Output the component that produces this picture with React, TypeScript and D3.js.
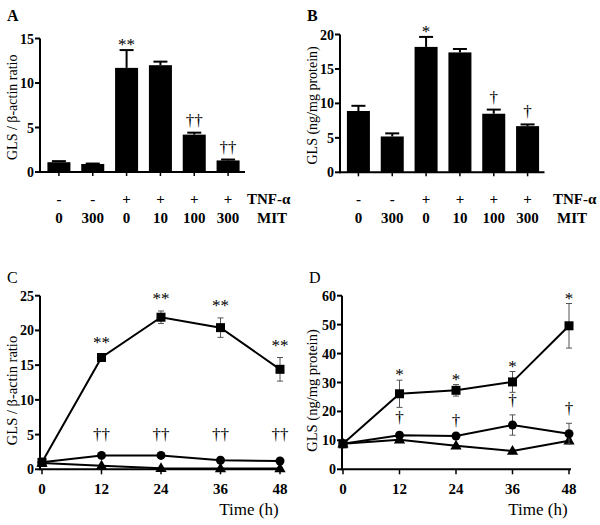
import React from "react";
import * as d3 from "d3";

// ---------- data ----------
const tnfLabels = ["-", "-", "+", "+", "+", "+"];
const mitLabels = ["0", "300", "0", "10", "100", "300"];

const aValues = [1.1, 0.9, 11.7, 12.0, 4.2, 1.3];
const aErrors = [0.12, 0.05, 2.0, 0.4, 0.22, 0.1];
const aMarks = ["", "", "**", "", "††", "††"];

const bValues = [8.9, 5.2, 18.2, 17.4, 8.5, 6.7];
const bErrors = [0.75, 0.45, 1.45, 0.5, 0.6, 0.25];
const bMarks = ["", "", "*", "", "†", "†"];

const times = [0, 12, 24, 36, 48];

const cSquare = [1.0, 16.1, 21.9, 20.4, 14.4];
const cSquareErr = [0.3, 0.3, 0.9, 1.4, 1.7];
const cCircle = [1.0, 2.0, 2.0, 1.3, 1.2];
const cCircleErr = [0.1, 0.15, 0.15, 0.1, 0.1];
const cTriangle = [0.9, 0.5, 0.15, 0.1, 0.1];
const cTriangleErr = [0.05, 0.05, 0.05, 0.05, 0.05];
const cStars = ["", "**", "**", "**", "**"];
const cDaggers = ["", "††", "††", "††", "††"];

const dSquare = [8.8, 26.1, 27.3, 30.2, 49.6];
const dSquareErr = [0.5, 4.7, 2.0, 3.6, 7.7];
const dCircle = [8.8, 11.8, 11.5, 15.3, 12.3];
const dCircleErr = [0.5, 1.0, 0.5, 3.5, 3.6];
const dTriangle = [8.8, 10.2, 8.1, 6.3, 9.9];
const dTriangleErr = [0.4, 0.5, 0.4, 0.4, 0.5];
const dStars = ["", "*", "*", "*", "*"];
const dDaggers = ["", "†", "†", "†", "†"];

const aTicks = [0, 5, 10, 15];
const bTicks = [0, 5, 10, 15, 20];
const cTicks = [0, 5, 10, 15, 20, 25];
const dTicks = [0, 10, 20, 30, 40, 50, 60];

const FONT = "'Liberation Serif', 'Times New Roman', serif";

type BarProps = {
  values: number[];
  errors: number[];
  marks: string[];
  ticks: number[];
  yMax: number;
  x0: number;
  axisX: number;
  yTop: number;
  yBottom: number;
  title: string;
  titleX: number;
  label: string;
  tnfX: number;
  mitX: number;
};

function BarPanel(p: BarProps) {
  const idx = p.values.map((_, i) => String(i));
  const x = d3.scaleBand().domain(idx).range([p.x0, p.x0 + 203]).paddingInner(0.32).paddingOuter(0.16);
  const y = d3.scaleLinear().domain([0, p.yMax]).range([p.yBottom, p.yTop]);
  const bw = x.bandwidth();
  return (
    <g>
      <text x={p.axisX - 33} y={21} fontFamily={FONT} fontSize={16} fontWeight="bold">{p.label}</text>
      {p.values.map((v, i) => {
        const cx = (x(String(i)) as number) + bw / 2;
        const top = y(v + p.errors[i]);
        return (
          <g key={i}>
            <line x1={cx} x2={cx} y1={y(v)} y2={top} stroke="#000" strokeWidth={2} />
            <line x1={cx - 7} x2={cx + 7} y1={top} y2={top} stroke="#000" strokeWidth={2} />
            <rect x={x(String(i))} y={y(v)} width={bw} height={y(0) - y(v)} fill="#000" />
            {p.marks[i] && (
              <text x={cx} y={top - (p.marks[i].includes("*") ? 0 : 7)} textAnchor="middle" fontFamily={FONT} fontSize={17} fill="#000">
                {p.marks[i]}
              </text>
            )}
            <line x1={cx} x2={cx} y1={y(0)} y2={y(0) + 4} stroke="#000" strokeWidth={1.5} />
            <text x={cx} y={204} textAnchor="middle" fontFamily={FONT} fontSize={15} fontWeight="bold">{tnfLabels[i]}</text>
            <text x={cx} y={223} textAnchor="middle" fontFamily={FONT} fontSize={15} fontWeight="bold">{mitLabels[i]}</text>
          </g>
        );
      })}
      <line x1={p.axisX} x2={p.x0 + 203} y1={y(0)} y2={y(0)} stroke="#000" strokeWidth={2} />
      <line x1={p.axisX} x2={p.axisX} y1={y(0) + 1} y2={y(p.yMax)} stroke="#000" strokeWidth={2} />
      {p.ticks.map((t) => (
        <g key={t}>
          <line x1={p.axisX - 5} x2={p.axisX} y1={y(t)} y2={y(t)} stroke="#000" strokeWidth={2} />
          <text x={p.axisX - 6} y={y(t) + 5} textAnchor="end" fontFamily={FONT} fontSize={14} fontWeight="bold">{t}</text>
        </g>
      ))}
      <text x={p.tnfX} y={204} fontFamily={FONT} fontSize={15} fontWeight="bold">TNF-α</text>
      <text x={p.mitX} y={223} fontFamily={FONT} fontSize={15} fontWeight="bold">MIT</text>
      <text transform={`translate(${p.titleX},${(p.yTop + p.yBottom) / 2 + 2}) rotate(-90)`} textAnchor="middle" fontFamily={FONT} fontSize={14}>
        {p.title}
      </text>
    </g>
  );
}

type LineProps = {
  square: number[]; squareErr: number[];
  circle: number[]; circleErr: number[];
  triangle: number[]; triangleErr: number[];
  stars: string[]; daggers: string[];
  ticks: number[]; yMax: number;
  axisX: number; xLeft: number; xRight: number;
  yTop: number; yBottom: number;
  title: string; titleX: number; label: string;
  starGap: number; daggerConst: number | null;
};

function LinePanel(p: LineProps) {
  const x = d3.scaleLinear().domain([0, 48]).range([p.xLeft, p.xRight]);
  const y = d3.scaleLinear().domain([0, p.yMax]).range([p.yBottom, p.yTop]);
  const line = d3.line<number>().x((_, i) => x(times[i])).y((v) => y(v));
  const tri = d3.symbol().type(d3.symbolTriangle).size(55)() as string;
  const series = [
    { v: p.triangle, e: p.triangleErr, kind: "tri" },
    { v: p.circle, e: p.circleErr, kind: "circle" },
    { v: p.square, e: p.squareErr, kind: "square" },
  ];
  return (
    <g>
      <text x={p.axisX - 33} y={283} fontFamily={FONT} fontSize={16}>{p.label}</text>
      {series.map((s) => (
        <g key={s.kind}>
          {s.v.map((v, i) => (
            <g key={i}>
              <line x1={x(times[i])} x2={x(times[i])} y1={y(v - s.e[i])} y2={y(v + s.e[i])} stroke="#555" strokeWidth={1} />
              <line x1={x(times[i]) - 3} x2={x(times[i]) + 3} y1={y(v + s.e[i])} y2={y(v + s.e[i])} stroke="#555" strokeWidth={1} />
              <line x1={x(times[i]) - 3} x2={x(times[i]) + 3} y1={y(v - s.e[i])} y2={y(v - s.e[i])} stroke="#555" strokeWidth={1} />
            </g>
          ))}
          <path d={line(s.v) as string} fill="none" stroke="#000" strokeWidth={2} />
          {s.v.map((v, i) => {
            const cx = x(times[i]);
            const cy = y(v);
            if (s.kind === "square") return <rect key={i} x={cx - 4.5} y={cy - 4.5} width={9} height={9} fill="#000" />;
            if (s.kind === "circle") return <circle key={i} cx={cx} cy={cy} r={4.5} fill="#000" />;
            return <path key={i} d={tri} transform={`translate(${cx},${cy + 0.5})`} fill="#000" />;
          })}
        </g>
      ))}
      {p.stars.map((s, i) =>
        s ? (
          <text key={"s" + i} x={x(times[i])} y={y(p.square[i] + p.squareErr[i]) - p.starGap} textAnchor="middle" fontFamily={FONT} fontSize={17} fill="#000">{s}</text>
        ) : null
      )}
      {p.daggers.map((s, i) =>
        s ? (
          <text key={"d" + i} x={x(times[i])}
            y={p.daggerConst !== null ? y(p.daggerConst) : y(p.circle[i] + p.circleErr[i]) - 9}
            textAnchor="middle" fontFamily={FONT} fontSize={17} fill="#000">{s}</text>
        ) : null
      )}
      <line x1={p.axisX} x2={p.xRight + 2} y1={y(0)} y2={y(0)} stroke="#000" strokeWidth={2} />
      <line x1={p.axisX} x2={p.axisX} y1={y(0) + 1} y2={y(p.yMax)} stroke="#000" strokeWidth={2} />
      {p.ticks.map((t) => (
        <g key={t}>
          <line x1={p.axisX - 5} x2={p.axisX} y1={y(t)} y2={y(t)} stroke="#000" strokeWidth={2} />
          <text x={p.axisX - 6} y={y(t) + 5} textAnchor="end" fontFamily={FONT} fontSize={14} fontWeight="bold">{t}</text>
        </g>
      ))}
      {times.map((t) => (
        <g key={t}>
          <line x1={x(t)} x2={x(t)} y1={y(0)} y2={y(0) + 5} stroke="#000" strokeWidth={1.5} />
          <text x={x(t)} y={494} textAnchor="middle" fontFamily={FONT} fontSize={15} fontWeight="bold">{t}</text>
        </g>
      ))}
      <text x={p.xRight - 31} y={515} textAnchor="middle" fontFamily={FONT} fontSize={17}>Time (h)</text>
      <text transform={`translate(${p.titleX},${(p.yTop + p.yBottom) / 2 + 8}) rotate(-90)`} textAnchor="middle" fontFamily={FONT} fontSize={14.5}>
        {p.title}
      </text>
    </g>
  );
}

export default function App() {
  return (
    <svg width={600} height={525} style={{ position: "absolute", left: 0, top: 0, background: "#fff" }}>
      <rect width={600} height={525} fill="#fff" />
      <BarPanel values={aValues} errors={aErrors} marks={aMarks} ticks={aTicks} yMax={15}
        x0={42} axisX={40} yTop={38.5} yBottom={172} title="GLS / β-actin ratio" titleX={17} label="A" tnfX={247} mitX={257} />
      <BarPanel values={bValues} errors={bErrors} marks={bMarks} ticks={bTicks} yMax={20}
        x0={341.5} axisX={340} yTop={34.5} yBottom={172.3} title="GLS (ng/mg protein)" titleX={317} label="B" tnfX={553} mitX={557} />
      <LinePanel square={cSquare} squareErr={cSquareErr} circle={cCircle} circleErr={cCircleErr}
        triangle={cTriangle} triangleErr={cTriangleErr} stars={cStars} daggers={cDaggers}
        ticks={cTicks} yMax={25} axisX={40} xLeft={42} xRight={280} yTop={295.7} yBottom={469.3}
        title="GLS / β-actin ratio" titleX={17} label="C" starGap={7} daggerConst={4.2} />
      <LinePanel square={dSquare} squareErr={dSquareErr} circle={dCircle} circleErr={dCircleErr}
        triangle={dTriangle} triangleErr={dTriangleErr} stars={dStars} daggers={dDaggers}
        ticks={dTicks} yMax={60} axisX={342} xLeft={343} xRight={569} yTop={295.7} yBottom={469.3}
        title="GLS (ng/mg protein)" titleX={317} label="D" starGap={0} daggerConst={null} />
    </svg>
  );
}
